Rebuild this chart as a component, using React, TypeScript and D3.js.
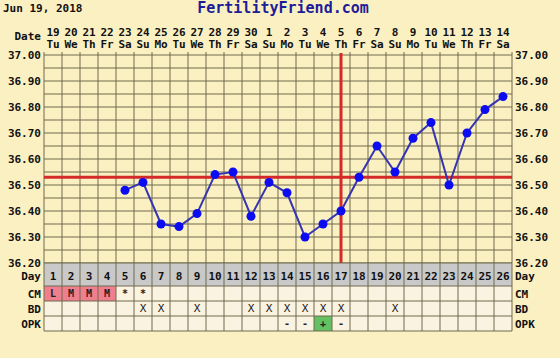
import React from "react";
import * as d3 from "d3";

const dayNums = [19,20,21,22,23,24,25,26,27,28,29,30,1,2,3,4,5,6,7,8,9,10,11,12,13,14];
const weekdays = ["Tu","We","Th","Fr","Sa","Su","Mo","Tu","We","Th","Fr","Sa","Su","Mo","Tu","We","Th","Fr","Sa","Su","Mo","Tu","We","Th","Fr","Sa"];
const cycleDays = d3.range(1, 27);
const tempDays = [5,6,7,8,9,10,11,12,13,14,15,16,17,18,19,20,21,22,23,24,25,26];
const temps = [36.48,36.51,36.35,36.34,36.39,36.54,36.55,36.38,36.51,36.47,36.30,36.35,36.40,36.53,36.65,36.55,36.68,36.74,36.50,36.70,36.79,36.84];
const coverline = 36.53;
const ovulationDay = 17;
const yTicks = [37.0,36.9,36.8,36.7,36.6,36.5,36.4,36.3,36.2];
const cmRow = ["L","M","M","M","*","*","","","","","","","","","","","","","","","","","","","",""];
const bdRow = ["","","","","","X","X","","X","","","X","X","X","X","X","X","","","X","","","","","",""];
const opkRow = ["","","","","","","","","","","","","","-","-","+","-","","","","","","","","",""];

const W = 560, H = 358;
const L = 44, R = 512, T = 55, B = 263;
const FONT = "'DejaVu Sans Mono', monospace";
const GRID = "#6f6a4c";

export default function App() {
  const x = d3.scaleBand<number>().domain(cycleDays).range([L, R]);
  const bw = x.bandwidth();
  const cx = (d: number) => (x(d) as number) + bw / 2;
  const y = d3.scaleLinear().domain([36.2, 37.0]).range([B, T]);
  const hLines = d3.range(0, 17).map(i => 36.2 + i * 0.05);
  const line = d3.line<number>().x((_, i) => cx(tempDays[i])).y(t => y(t));
  const rows = [
    { label: "CM", y0: 286, y1: 301, data: cmRow },
    { label: "BD", y0: 301, y1: 316, data: bdRow },
    { label: "OPK", y0: 316, y1: 331, data: opkRow },
  ];
  const cellFill = (label: string, v: string) => {
    if (label === "CM" && /[LM]/.test(v)) return "#ef7f8f";
    if (label === "OPK" && v === "+") return "#63c163";
    return "#fbf3e2";
  };
  return (
    <svg width={W} height={H} style={{ position: "absolute", left: 0, top: 0 }} fontFamily={FONT}>
      <rect width={W} height={H} fill="#fbf0c2" />
      <text x={3} y={12} fontSize={11} fontWeight="bold" fill="#111">Jun 19, 2018</text>
      <text x={283} y={13} fontSize={15} fontWeight="bold" fill="#1d1d9a" textAnchor="middle">FertilityFriend.com</text>
      <text x={41} y={40} fontSize={11} fontWeight="bold" textAnchor="end" fill="#111">Date</text>
      {cycleDays.map((d, i) => (
        <g key={"h" + d}>
          <text x={cx(d)} y={36} fontSize={11} fontWeight="bold" textAnchor="middle" fill="#111">{dayNums[i]}</text>
          <text x={cx(d)} y={48} fontSize={11} fontWeight="bold" textAnchor="middle" fill="#111">{weekdays[i]}</text>
        </g>
      ))}
      {hLines.map((v, i) => (
        <line key={"hl" + i} x1={L} x2={R} y1={y(v)} y2={y(v)} stroke={GRID} strokeWidth={1} />
      ))}
      {d3.range(0, 27).map(i => (
        <line key={"vl" + i} x1={L + i * bw} x2={L + i * bw} y1={T - 3} y2={B} stroke={GRID} strokeWidth={1} />
      ))}
      {yTicks.map(v => (
        <g key={"yt" + v}>
          <text x={41} y={y(v) + 4} fontSize={11} fontWeight="bold" textAnchor="end" fill="#111">{v.toFixed(2)}</text>
          <text x={515} y={y(v) + 4} fontSize={11} fontWeight="bold" fill="#111">{v.toFixed(2)}</text>
        </g>
      ))}
      <line x1={L} x2={R} y1={y(coverline)} y2={y(coverline)} stroke="#d42a2a" strokeWidth={3} />
      <line x1={cx(ovulationDay)} x2={cx(ovulationDay)} y1={T - 2} y2={B} stroke="#d42a2a" strokeWidth={3} />
      <path d={line(temps) || ""} fill="none" stroke="#3535b0" strokeWidth={2} />
      {temps.map((t, i) => (
        <circle key={"p" + i} cx={cx(tempDays[i])} cy={y(t)} r={4.5} fill="#0c0cf0" />
      ))}
      {/* day row */}
      <rect x={L} y={B} width={R - L} height={23} fill="#c9c9c9" />
      <text x={41} y={280} fontSize={11} fontWeight="bold" textAnchor="end" fill="#111">Day</text>
      <text x={515} y={280} fontSize={11} fontWeight="bold" fill="#111">Day</text>
      {cycleDays.map(d => (
        <text key={"dn" + d} x={cx(d)} y={280} fontSize={11} fontWeight="bold" textAnchor="middle" fill="#111">{d}</text>
      ))}
      {rows.map(r => (
        <g key={r.label}>
          {cycleDays.map((d, i) => (
            <g key={r.label + d}>
              <rect x={x(d)} y={r.y0} width={bw} height={r.y1 - r.y0} fill={cellFill(r.label, r.data[i])} />
              {r.data[i] && (
                <text x={cx(d)} y={r.y0 + 11} fontSize={r.label === "BD" ? 11 : 10} fontWeight={r.label === "BD" ? "normal" : "bold"} textAnchor="middle" fill="#222">{r.data[i]}</text>
              )}
            </g>
          ))}
          <text x={41} y={r.y0 + 12} fontSize={11} fontWeight="bold" textAnchor="end" fill="#111">{r.label}</text>
          <text x={515} y={r.y0 + 12} fontSize={11} fontWeight="bold" fill="#111">{r.label}</text>
        </g>
      ))}
      {[B, 286, 301, 316, 331].map(v => (
        <line key={"rl" + v} x1={L} x2={R} y1={v} y2={v} stroke={GRID} strokeWidth={1} />
      ))}
      {d3.range(0, 27).map(i => (
        <line key={"tv" + i} x1={L + i * bw} x2={L + i * bw} y1={B} y2={331} stroke={GRID} strokeWidth={1} />
      ))}
    </svg>
  );
}
